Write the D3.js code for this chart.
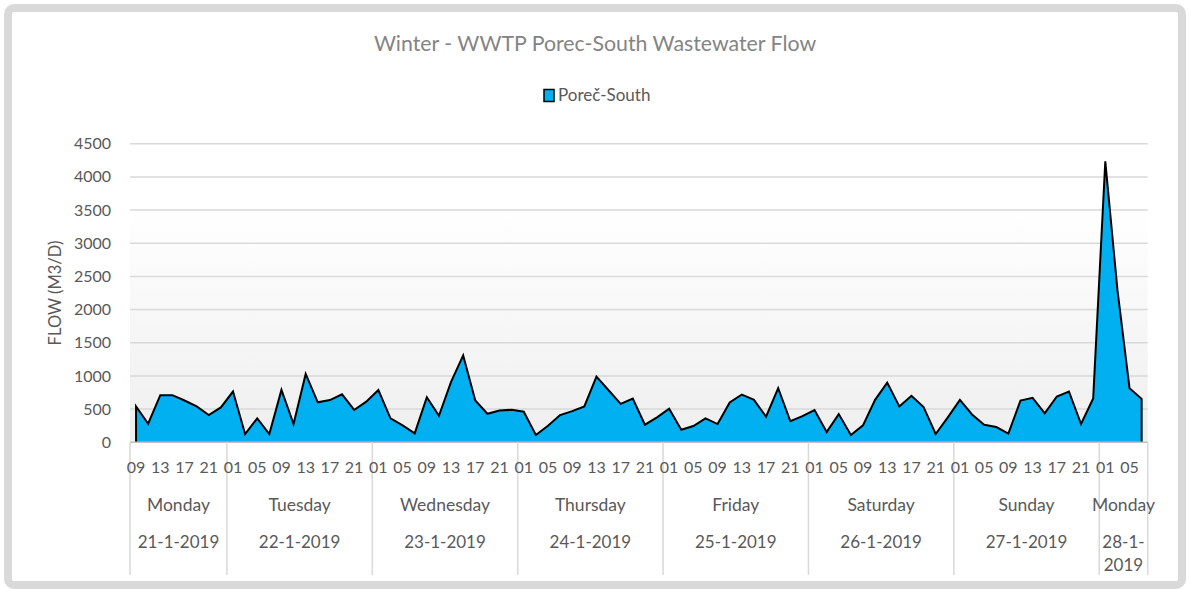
<!DOCTYPE html>
<html>
<head>
<meta charset="utf-8">
<script src="https://cdn.jsdelivr.net/npm/d3@7"></script>
<style>
  body { margin: 0; background: #fff; }
  text { font-family: Lato, "Open Sans", sans-serif; }
</style>
</head>
<body>
<script>
var width = 1190, height = 589;

// categories: one block per day, 2-hour steps
var dayNames = ['Monday', 'Tuesday', 'Wednesday', 'Thursday', 'Friday', 'Saturday', 'Sunday', 'Monday'];
var dayDates = ['21-1-2019', '22-1-2019', '23-1-2019', '24-1-2019', '25-1-2019', '26-1-2019', '27-1-2019', '28-1-2019'];
var dayHours = [
  ['09','11','13','15','17','19','21','23'],
  ['01','03','05','07','09','11','13','15','17','19','21','23'],
  ['01','03','05','07','09','11','13','15','17','19','21','23'],
  ['01','03','05','07','09','11','13','15','17','19','21','23'],
  ['01','03','05','07','09','11','13','15','17','19','21','23'],
  ['01','03','05','07','09','11','13','15','17','19','21','23'],
  ['01','03','05','07','09','11','13','15','17','19','21','23'],
  ['01','03','05','07']
];

// flow, m3/d
var flow = [
  540, 280, 710, 710, 630, 540, 410, 525,
  765, 125, 360, 125, 790, 276, 1030, 602, 637, 723, 487, 612, 788, 361, 255, 135,
  680, 400, 910, 1310, 630, 430, 480, 490, 460, 110, 250, 410,
  470, 540, 990, 785, 580, 660, 265, 375, 505, 190, 245, 360,
  275, 600, 720, 640, 385, 815, 320, 395, 485, 155, 425, 110,
  255, 640, 900, 540, 700, 530, 125, 375, 640, 420, 265, 230,
  130, 630, 670, 435, 690, 765, 275, 660,
  4235, 2300, 815, 655
];

var yTicks = [0, 500, 1000, 1500, 2000, 2500, 3000, 3500, 4000, 4500];

var cats = [];
dayHours.forEach(function(hs, d){
  hs.forEach(function(h){ cats.push({day: d, hour: h}); });
});
var points = flow.map(function(v, i){ return {i: i, v: v}; });

var plotLeft = 130, plotRight = 1147.7, plotTop = 143.7, plotBottom = 442.3;

var x = d3.scaleBand().domain(d3.range(cats.length)).range([plotLeft, plotRight]).padding(0);
var y = d3.scaleLinear().domain([0, 4500]).range([plotBottom, plotTop]);
var cx = function(i){ return x(i) + x.bandwidth()/2; };

var svg = d3.select('body').append('svg')
  .attr('width', width)
  .attr('height', height);

var defs = svg.append('defs');
var grad = defs.append('linearGradient')
  .attr('id', 'bg').attr('x1', 0).attr('y1', 0).attr('x2', 0).attr('y2', 1);
grad.append('stop').attr('offset', '0%').attr('stop-color', '#ffffff');
grad.append('stop').attr('offset', '22%').attr('stop-color', '#ffffff');
grad.append('stop').attr('offset', '100%').attr('stop-color', '#eeeeee');

// outer frame
svg.append('rect')
  .attr('x', 8).attr('y', 8)
  .attr('width', 1174).attr('height', 577)
  .attr('rx', 6)
  .attr('fill', '#fff')
  .attr('stroke', '#d9d9d9')
  .attr('stroke-width', 8);

// plot background
svg.append('rect')
  .attr('x', plotLeft).attr('y', plotTop)
  .attr('width', plotRight - plotLeft).attr('height', plotBottom - plotTop)
  .attr('fill', 'url(#bg)');

// gridlines
svg.append('g').selectAll('line').data(yTicks.slice(1))
  .enter().append('line')
    .attr('x1', plotLeft).attr('x2', plotRight)
    .attr('y1', function(d){ return y(d); })
    .attr('y2', function(d){ return y(d); })
    .attr('stroke', '#d9d9d9')
    .attr('stroke-width', 1.5);

// y tick labels
svg.append('g').selectAll('text').data(yTicks)
  .enter().append('text')
    .attr('x', 111)
    .attr('y', function(d){ return y(d); })
    .attr('dy', '0.35em')
    .attr('text-anchor', 'end')
    .attr('font-size', 16)
    .attr('fill', '#595959')
    .text(function(d){ return d; });

svg.append('text')
  .attr('transform', 'translate(55,' + y(2250) + ') rotate(-90)')
  .attr('dy', '0.35em')
  .attr('text-anchor', 'middle')
  .attr('font-size', 16.5)
  .attr('fill', '#595959')
  .text('FLOW (M3/D)');

// area
var area = d3.area()
  .x(function(d){ return cx(d.i); })
  .y0(y(0))
  .y1(function(d){ return y(d.v); });

svg.append('path')
  .datum(points)
  .attr('d', area)
  .attr('fill', '#00b0f0');

var outline = [{i: 0, v: 0}].concat(points, [{i: points.length - 1, v: 0}]);
svg.append('path')
  .datum(outline)
  .attr('d', d3.line().x(function(d){ return cx(d.i); }).y(function(d){ return y(d.v); }))
  .attr('fill', 'none')
  .attr('stroke', '#000')
  .attr('stroke-width', 2)
  .attr('stroke-linejoin', 'miter');

// x axis line
svg.append('line')
  .attr('x1', plotLeft).attr('x2', plotRight)
  .attr('y1', plotBottom).attr('y2', plotBottom)
  .attr('stroke', '#bfbfbf')
  .attr('stroke-width', 1.5);

// day dividers
var starts = [];
var k = 0;
dayHours.forEach(function(hs){ starts.push(k); k += hs.length; });
var bounds = starts.map(function(s){ return x(s); }).concat([plotRight]);

svg.append('g').selectAll('line').data(bounds)
  .enter().append('line')
    .attr('x1', function(d){ return d; })
    .attr('x2', function(d){ return d; })
    .attr('y1', plotBottom).attr('y2', 575)
    .attr('stroke', '#d9d9d9')
    .attr('stroke-width', 1.5);

// hour labels, every second category
svg.append('g').selectAll('text').data(cats.filter(function(c, i){ return i % 2 == 0; }).map(function(c, j){ return {h: c.hour, i: j*2}; }))
  .enter().append('text')
    .attr('x', function(d){ return cx(d.i); })
    .attr('y', 467)
    .attr('dy', '0.35em')
    .attr('text-anchor', 'middle')
    .attr('font-size', 16)
    .attr('fill', '#595959')
    .text(function(d){ return d.h; });

// day names and dates
var dayData = dayNames.map(function(n, d){
  return {name: n, date: dayDates[d], mid: (bounds[d] + bounds[d+1]) / 2, w: bounds[d+1] - bounds[d]};
});

svg.append('g').selectAll('text').data(dayData)
  .enter().append('text')
    .attr('x', function(d){ return d.mid; })
    .attr('y', 505)
    .attr('dy', '0.35em')
    .attr('text-anchor', 'middle')
    .attr('font-size', 17.5)
    .attr('fill', '#595959')
    .text(function(d){ return d.name; });

var dates = svg.append('g').selectAll('text').data(dayData)
  .enter().append('text')
    .attr('x', function(d){ return d.mid; })
    .attr('y', 542)
    .attr('dy', '0.35em')
    .attr('text-anchor', 'middle')
    .attr('font-size', 17)
    .attr('fill', '#595959');

// narrow last block wraps its date
dates.each(function(d){
  var t = d3.select(this);
  if (d.w < 80) {
    var parts = d.date.split('-');
    t.append('tspan').attr('x', d.mid).text(parts[0] + '-' + parts[1] + '-');
    t.append('tspan').attr('x', d.mid).attr('dy', 23).text(parts[2]);
  } else {
    t.text(d.date);
  }
});

// title
svg.append('text')
  .attr('x', 595).attr('y', 44)
  .attr('dy', '0.35em')
  .attr('text-anchor', 'middle')
  .attr('font-size', 21.3)
  .attr('fill', '#848484')
  .text('Winter - WWTP Porec-South Wastewater Flow');

// legend
svg.append('rect')
  .attr('x', 544).attr('y', 89.5)
  .attr('width', 10).attr('height', 12)
  .attr('fill', '#00b0f0')
  .attr('stroke', '#000')
  .attr('stroke-width', 1.5);

svg.append('text')
  .attr('x', 558).attr('y', 95.5)
  .attr('dy', '0.35em')
  .attr('font-size', 17)
  .attr('fill', '#595959')
  .text('Poreč-South');
</script>
</body>
</html>
